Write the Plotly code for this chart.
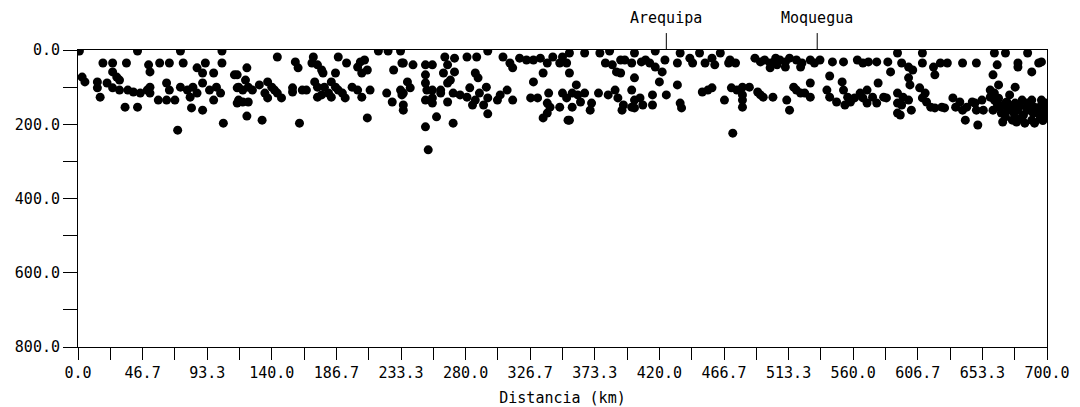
import plotly.graph_objects as go

# Earthquake hypocentres: (distance along profile km, depth km)
events_000_117 = [(1,3),(3,73),(5,86),(14,86),(14,102),(16,127),(18,35),(25,35),(25,59),(28,73),(30,81),(35,35),(43,3),(21,89),(25,102),(30,108),(36,108),(40,113),(45,116),(50,108),(52,100),(52,116),(51,40),(52,59),(34,154),(43,154),(59,35),(66,35),(76,35),(74,3),(64,89),(66,108),(74,100),(79,108),(83,100),(86,116),(81,127),(58,135),(64,135),(70,135),(86,48),(90,62),(92,35),(98,62),(90,89),(95,108),(100,100),(103,116),(98,135),(82,156),(90,162),(104,3),(104,35),(72,216),(105,197),(113,67),(115,102),(115,143)]

events_117_235 = [(144,19),(157,32),(159,48),(170,19),(169,35),(173,40),(176,54),(177,62),(188,19),(194,35),(204,32),(207,27),(209,54),(205,62),(202,46),(217,3),(224,3),(233,3),(234,35),(228,54),(122,48),(115,67),(121,81),(123,100),(116,100),(119,108),(126,108),(131,94),(137,86),(140,100),(135,116),(142,108),(144,116),(137,129),(147,129),(116,135),(119,140),(123,140),(122,178),(133,189),(155,102),(155,113),(162,108),(165,108),(171,86),(173,100),(178,100),(183,86),(186,62),(186,100),(188,108),(181,116),(176,121),(173,127),(183,127),(191,116),(193,129),(198,100),(202,108),(205,127),(211,108),(160,197),(209,183),(223,116),(227,140),(234,121),(235,162)]

events_235_355 = [(235,35),(242,40),(251,40),(256,40),(251,67),(265,19),(267,40),(264,62),(272,22),(272,59),(281,19),(288,19),(296,3),(287,62),(289,75),(238,86),(240,102),(235,116),(233,108),(235,148),(251,89),(252,108),(256,108),(262,108),(262,116),(267,89),(269,81),(271,116),(267,140),(251,135),(256,143),(256,129),(276,121),(281,127),(283,102),(287,135),(285,148),(290,116),(295,100),(296,129),(293,148),(303,135),(305,121),(310,108),(314,135),(259,180),(271,197),(251,207),(253,269),(296,172),(307,19),(312,35),(314,48),(319,22),(324,27),(329,27),(334,22),(339,35),(343,19),(348,35),(350,19),(353,35),(336,62),(329,86),(327,129),(332,129),(340,116),(339,143),(341,154),(339,170),(336,183),(350,116),(353,129),(348,154),(354,189)]

events_355_475 = [(355,8),(366,8),(377,8),(384,3),(392,27),(402,8),(410,27),(417,3),(424,27),(435,8),(442,22),(449,8),(458,22),(464,8),(471,27),(381,35),(386,40),(389,59),(392,62),(395,27),(400,35),(407,32),(413,35),(417,46),(422,59),(420,86),(433,35),(444,35),(453,35),(460,40),(470,35),(355,62),(402,75),(400,108),(433,94),(425,121),(360,94),(357,116),(361,121),(366,116),(363,140),(357,154),(355,189),(371,143),(370,162),(376,116),(383,121),(388,108),(390,129),(394,148),(393,162),(400,154),(402,135),(406,129),(402,156),(408,148),(415,121),(415,148),(435,143),(436,156),(451,113),(455,108),(458,102),(467,135),(472,102),(473,224)]

events_475_592 = [(489,22),(493,32),(496,27),(500,35),(504,22),(507,27),(511,32),(514,22),(519,27),(523,35),(529,27),(532,35),(536,27),(545,32),(553,32),(563,27),(567,35),(571,32),(577,32),(585,32),(587,59),(475,35),(500,48),(505,40),(511,46),(522,46),(543,70),(529,89),(476,108),(480,100),(485,100),(480,121),(480,135),(480,154),(491,113),(493,121),(495,127),(502,127),(512,135),(514,162),(517,100),(519,108),(522,116),(525,116),(529,127),(541,108),(543,127),(548,140),(552,86),(553,108),(556,127),(554,148),(558,140),(561,129),(565,116),(567,129),(570,108),(570,143),(574,127),(578,89),(582,127),(584,129),(577,143),(592,116),(592,143),(592,170)]

events_592_700 = [(592,8),(610,8),(662,8),(670,8),(686,8),(595,35),(600,46),(603,54),(610,35),(618,46),(623,35),(628,35),(639,35),(649,35),(664,40),(679,35),(679,46),(689,59),(694,35),(696,32),(619,67),(661,67),(600,75),(601,94),(665,94),(677,100),(659,108),(596,127),(600,135),(595,148),(602,162),(594,175),(608,102),(612,116),(610,129),(613,140),(616,154),(619,156),(624,154),(626,156),(632,129),(634,154),(637,140),(639,162),(642,154),(646,140),(648,143),(649,162),(654,162),(653,135),(641,189),(650,202),(659,127),(662,135),(665,154),(667,170),(671,140),(672,162),(675,189),(677,143),(679,162),(683,175),(686,143),(686,162),(689,189),(691,154),(694,170),(696,148),(699,162),(699,143),(699,180),(661,162),(668,194),(678,194),(684,197),(691,197),(662,116),(673,121),(670,143),(682,135),(689,135),(696,135),(665,130),(668,150),(675,150),(680,150),(685,155),(690,170),(695,185),(680,185),(670,180),(688,145),(693,160),(698,170),(676,170),(664,145),(697,190)]

place_names = ["Arequipa", "Moquegua"]
place_dist = [425, 534]

x_title = "Distancia (km)"

all_events = (events_000_117 + events_117_235 + events_235_355 +
              events_355_475 + events_475_592 + events_592_700)
dist = [e[0] for e in all_events]
depth = [e[1] for e in all_events]

FONT = dict(family="DejaVu Sans Mono", size=15, color="black")

fig = go.Figure(go.Scatter(
    x=dist, y=depth, mode="markers",
    marker=dict(size=9, color="black", line=dict(width=0)),
    cliponaxis=True, showlegend=False, hoverinfo="skip"))

for name, d in zip(place_names, place_dist):
    fig.add_shape(type="line", xref="x", yref="paper", x0=d, x1=d, y0=1, y1=1.057,
                  line=dict(color="black", width=1))
    fig.add_annotation(x=d, xref="x", y=1.108, yref="paper", text=name,
                       showarrow=False, xanchor="center", yanchor="middle", font=FONT)

# page body has an 8px margin, so the figure is sized/offset to compensate
fig.update_layout(
    width=1072, height=399,
    margin=dict(l=70, r=33, t=42, b=60, autoexpand=False),
    paper_bgcolor="white", plot_bgcolor="white",
    font=FONT,
    xaxis=dict(range=[0, 700], showline=True, linecolor="black", linewidth=1, mirror=True,
               ticks="outside", ticklen=12, tickcolor="black", tickwidth=1,
               tick0=0, dtick=700/15, tickformat=".1f",
               minor=dict(dtick=700/30, ticks="outside", ticklen=12, tickcolor="black", tickwidth=1),
               showgrid=False, zeroline=False, automargin=False,
               title=dict(text=x_title, font=FONT, standoff=14)),
    yaxis=dict(range=[800, 0], showline=True, linecolor="black", linewidth=1, mirror=True,
               ticks="outside", ticklen=14, tickcolor="black", tickwidth=1,
               tick0=0, dtick=200, tickformat=".1f",
               minor=dict(dtick=100, ticks="outside", ticklen=14, tickcolor="black", tickwidth=1),
               showgrid=False, zeroline=False, automargin=False),
)

fig.write_html("out.html")
